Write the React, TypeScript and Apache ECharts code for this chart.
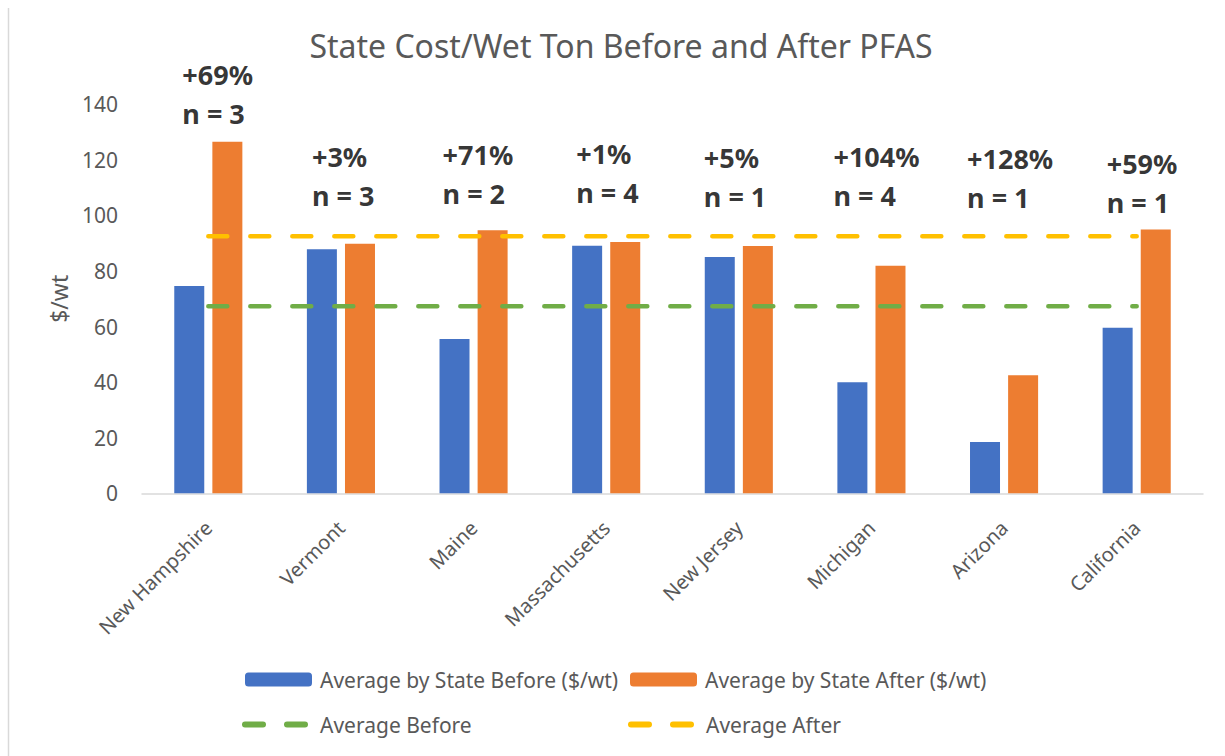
import React, { useEffect, useRef } from "react";
import * as echarts from "echarts";

const categories = ["New Hampshire", "Vermont", "Maine", "Massachusetts", "New Jersey", "Michigan", "Arizona", "California"];
const beforeValues = [74.6, 87.8, 55.5, 89.1, 85.0, 40.0, 18.5, 59.6];
const afterValues = [126.5, 89.8, 94.7, 90.4, 89.0, 81.9, 42.5, 94.9];
const averageBefore = 67.3;
const averageAfter = 92.5;
const changeLabels = ["+69%", "+3%", "+71%", "+1%", "+5%", "+104%", "+128%", "+59%"];
const sampleCounts = [3, 3, 2, 4, 1, 4, 1, 1];
const annotationLevels = [150.5, 121, 121.9, 122, 120.8, 121.1, 120.3, 118.5];
const yTicks = [0, 20, 40, 60, 80, 100, 120, 140];

// styling: horizontal offset (px) of each annotation box from its category centre
const annotationShift = [-26, -29, -31, -30, -35, -38, -37, -30];

const FONT = "'Noto Sans', 'Open Sans', sans-serif";
const GREY = "#595959";
const BLUE = "#4472C4";
const ORANGE = "#ED7D31";
const GREEN = "#70AD47";
const YELLOW = "#FFC000";
const DASH_ICON =
  "path://M3,0 H21 A3,3 0 0 1 21,6 H3 A3,3 0 0 1 3,0 Z M45,0 H63 A3,3 0 0 1 63,6 H45 A3,3 0 0 1 45,0 Z";

export default function App() {
  const ref = useRef<HTMLDivElement>(null);
  useEffect(() => {
    if (!ref.current) return;
    const chart = echarts.init(ref.current, undefined, { renderer: "svg" });
    const legendCommon = {
      orient: "horizontal",
      itemWidth: 67,
      itemHeight: 14,
      itemGap: 0,
      padding: 0,
      textStyle: { fontFamily: FONT, fontSize: 21, color: GREY, padding: [0, 0, 0, 3] },
    };
    const lineLegend = {
      ...legendCommon,
      itemWidth: 66,
      itemHeight: 6,
      textStyle: { ...legendCommon.textStyle, padding: [0, 0, 0, 7] },
    };
    const dashLine = (color: string) => ({
      color,
      width: 4.5,
      type: [19, 23],
      cap: "round",
    });
    chart.setOption({
      animation: false,
      backgroundColor: "#ffffff",
      title: {
        text: "State Cost/Wet Ton Before and After PFAS",
        left: 621,
        textAlign: "center",
        top: 29,
        padding: 0,
        textStyle: { fontFamily: FONT, fontSize: 32, fontWeight: "normal", color: GREY },
      },
      grid: { left: 142, right: 22, top: 104.3, bottom: 262.7, containLabel: false },
      legend: [
        { ...legendCommon, left: 245, top: 669, data: ["Average by State Before ($/wt)"] },
        { ...legendCommon, left: 630, top: 669, data: ["Average by State After ($/wt)"] },
        { ...lineLegend, left: 242, top: 714, data: [{ name: "Average Before", icon: DASH_ICON }] },
        { ...lineLegend, left: 628, top: 714, data: [{ name: "Average After", icon: DASH_ICON }] },
      ],
      xAxis: {
        type: "category",
        data: categories,
        axisLine: { show: true, lineStyle: { color: "#D9D9D9", width: 1.5 } },
        axisTick: { show: false },
        axisLabel: {
          interval: 0,
          rotate: 45,
          margin: 31,
          fontFamily: FONT,
          fontSize: 20,
          color: GREY,
        },
      },
      yAxis: {
        type: "value",
        min: yTicks[0],
        max: yTicks[yTicks.length - 1],
        interval: yTicks[1] - yTicks[0],
        name: "$/wt",
        nameLocation: "middle",
        nameGap: 72,
        nameRotate: 90,
        nameTextStyle: { fontFamily: FONT, fontSize: 23, color: GREY },
        axisLine: { show: false },
        axisTick: { show: false },
        splitLine: { show: false },
        axisLabel: { fontFamily: FONT, fontSize: 21, color: GREY, margin: 24 },
      },
      series: [
        {
          name: "Average by State Before ($/wt)",
          type: "bar",
          data: beforeValues,
          barWidth: 30,
          barGap: "27%",
          itemStyle: { color: BLUE },
        },
        {
          name: "Average by State After ($/wt)",
          type: "bar",
          data: afterValues,
          barWidth: 30,
          barGap: "27%",
          itemStyle: { color: ORANGE },
        },
        {
          name: "Average Before",
          type: "line",
          data: categories.map(() => averageBefore),
          symbol: "none",
          itemStyle: { color: GREEN },
          lineStyle: dashLine(GREEN),
        },
        {
          name: "Average After",
          type: "line",
          data: categories.map(() => averageAfter),
          symbol: "none",
          itemStyle: { color: YELLOW },
          lineStyle: dashLine(YELLOW),
        },
        {
          name: "annotations",
          type: "scatter",
          clip: false,
          symbolSize: 0,
          silent: true,
          data: categories.map((c, i) => ({
            value: [i, annotationLevels[i]],
            label: { position: [annotationShift[i], -20] },
          })),
          label: {
            show: true,
            align: "left",
            verticalAlign: "top",
            fontFamily: FONT,
            fontSize: 27,
            fontWeight: "bold",
            color: "#000000",
            lineHeight: 39,
            formatter: (p: any) => `${changeLabels[p.dataIndex]}\nn = ${sampleCounts[p.dataIndex]}`,
          },
        },
      ],
      graphic: [
        {
          type: "line",
          shape: { x1: 8.5, y1: 8, x2: 8.5, y2: 756 },
          style: { stroke: "#D9D9D9", lineWidth: 1.5 },
          silent: true,
        },
      ],
    });
    return () => chart.dispose();
  }, []);
  return (
    <div
      ref={ref}
      style={{ position: "fixed", left: 0, top: 0, width: 1225, height: 756 }}
    />
  );
}
